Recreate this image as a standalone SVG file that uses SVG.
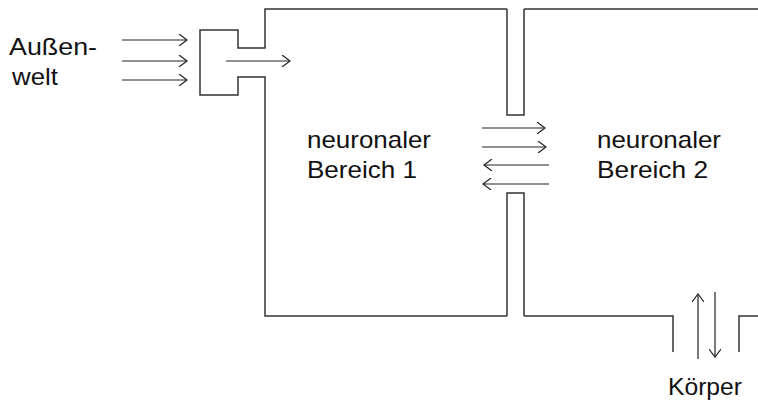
<svg xmlns="http://www.w3.org/2000/svg" width="758" height="406" viewBox="0 0 758 406">
<defs>
<style>
.wall{fill:none;stroke:#333;stroke-width:1.5}
.arr{fill:none;stroke:#222;stroke-width:1.2;marker-end:url(#head)}
.txt{font-family:"Liberation Sans",Arial,sans-serif;font-size:24px;fill:#111}
</style>
<marker id="head" markerWidth="12" markerHeight="12" refX="10" refY="6" orient="auto" markerUnits="userSpaceOnUse">
<path d="M2,0 L10,6 L2,12" fill="none" stroke="#222" stroke-width="1.2"/>
</marker>
</defs>
<rect width="758" height="406" fill="#fff"/>
<g id="bereich1">
<path class="wall" d="M507,9 H265 V48 H238 V30 H200 V95 H238 V77 H265 V316 H507"/>
<text class="txt" x="307" y="148" textLength="124" lengthAdjust="spacingAndGlyphs">neuronaler</text>
<text class="txt" x="307" y="178" textLength="110" lengthAdjust="spacingAndGlyphs">Bereich 1</text>
</g>
<g id="kanal">
<path class="wall" d="M507,9 V115 H524 V9"/>
<path class="wall" d="M507,316 V193 H524 V316"/>
</g>
<g id="bereich2">
<path class="wall" d="M524,9 H758"/>
<path class="wall" d="M524,316 H673 V352"/>
<path class="wall" d="M739,352 V316 H758"/>
<text class="txt" x="597" y="148" textLength="124" lengthAdjust="spacingAndGlyphs">neuronaler</text>
<text class="txt" x="597" y="178" textLength="111" lengthAdjust="spacingAndGlyphs">Bereich 2</text>
</g>
<g id="aussenwelt">
<text class="txt" x="9" y="55" textLength="88" lengthAdjust="spacingAndGlyphs">Außen-</text>
<text class="txt" x="12" y="85" textLength="46" lengthAdjust="spacingAndGlyphs">welt</text>
</g>
<g id="koerper">
<text class="txt" x="668" y="395" textLength="74" lengthAdjust="spacingAndGlyphs">Körper</text>
</g>
<g id="connectors">
<line class="arr" x1="122" y1="40" x2="187" y2="40"/>
<line class="arr" x1="122" y1="61" x2="187" y2="61"/>
<line class="arr" x1="122" y1="80" x2="187" y2="80"/>
<line class="arr" x1="226" y1="61" x2="290" y2="61"/>
<line class="arr" x1="482" y1="128" x2="545" y2="128"/>
<line class="arr" x1="482" y1="147" x2="546" y2="147"/>
<line class="arr" x1="549" y1="165" x2="484" y2="165"/>
<line class="arr" x1="549" y1="184" x2="483" y2="184"/>
<line class="arr" x1="698" y1="359" x2="698" y2="294"/>
<line class="arr" x1="715" y1="292" x2="715" y2="357"/>
</g>
</svg>
